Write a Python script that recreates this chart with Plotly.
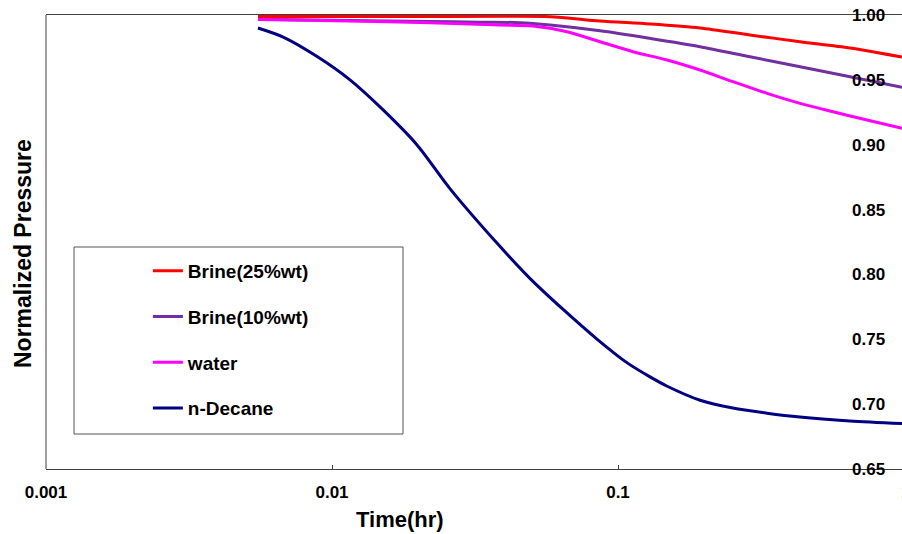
import plotly.graph_objects as go

# ---- data ----
t_brine25 = [0.00551, 0.0173, 0.0387, 0.0579, 0.0865, 0.1294, 0.1935, 0.2893, 0.4330, 0.6474, 0.984]
p_brine25 = [0.9988, 0.9988, 0.9990, 0.9987, 0.9954, 0.9931, 0.9900, 0.9846, 0.9794, 0.9746, 0.9676]

t_brine10 = [0.00551, 0.01156, 0.022, 0.0329, 0.0454, 0.0579, 0.0865, 0.1294, 0.1935, 0.2893, 0.4330, 0.6474, 0.984]
p_brine10 = [0.9967, 0.9958, 0.9950, 0.9945, 0.9941, 0.9923, 0.9879, 0.9820, 0.9756, 0.9678, 0.9601, 0.9524, 0.9443]

t_water = [0.00551, 0.01156, 0.022, 0.0387, 0.0504, 0.0663, 0.0865, 0.1128, 0.1484, 0.1935, 0.2524,
           0.3319, 0.4330, 0.5646, 0.7425, 0.984]
p_water = [0.9965, 0.9954, 0.9940, 0.9923, 0.9915, 0.9871, 0.9794, 0.9717, 0.9653, 0.9576, 0.9486,
           0.9396, 0.9319, 0.9254, 0.9190, 0.9126]

t_decane = [0.00551, 0.00675, 0.00887, 0.01156, 0.01506, 0.0198, 0.02588, 0.0378, 0.0492,
            0.0643, 0.0846, 0.1074, 0.1294, 0.148, 0.1937, 0.252, 0.332, 0.4325, 0.647, 0.984]
p_decane = [0.990, 0.983, 0.968, 0.950, 0.927, 0.900, 0.866, 0.824, 0.797,
            0.773, 0.750, 0.732, 0.721, 0.714, 0.703, 0.697, 0.693, 0.690, 0.687, 0.685]

series_names = ["Brine(25%wt)", "Brine(10%wt)", "water", "n-Decane"]
series_colors = ["#FF0000", "#7030A0", "#FF00FF", "#000080"]

x_tickvals = [0.001, 0.01, 0.1, 1]
x_ticktext = ["0.001", "0.01", "0.1", "1"]
y_tickvals = [0.65, 0.70, 0.75, 0.80, 0.85, 0.90, 0.95, 1.00]

FONT = "Arial, Liberation Sans, sans-serif"

fig = go.Figure()
data = [(t_brine25, p_brine25), (t_brine10, p_brine10), (t_water, p_water), (t_decane, p_decane)]
for i, ((tx, py), name, col) in enumerate(zip(data, series_names, series_colors)):
    fig.add_trace(go.Scatter(
        x=tx, y=py, mode="lines", name=name, legendgroup=f"g{i}",
        line=dict(color=col, width=3, shape="spline", smoothing=0.8),
    ))

fig.update_layout(
    width=902, height=534,
    margin=dict(l=46, r=0, t=15, b=65),
    paper_bgcolor="white", plot_bgcolor="white",
    font=dict(family=FONT, color="black"),
    showlegend=True,
    legend=dict(
        x=0.119, y=0.478, xanchor="left", yanchor="top",
        bgcolor="rgba(0,0,0,0)", borderwidth=0,
        font=dict(size=19, family=FONT, color="black", weight="bold"),
        traceorder="grouped", tracegroupgap=18, itemwidth=30,
    ),
    xaxis=dict(
        type="log", range=[-3, -0.007], domain=[0, 1],
        tickvals=x_tickvals, ticktext=x_ticktext,
        showline=True, linecolor="#404040", linewidth=1, mirror=True,
        ticks="inside", ticklen=4, tickcolor="#404040",
        showgrid=False, zeroline=False,
        tickfont=dict(size=17, family=FONT, weight="bold", color="black"),
        ticklabelstandoff=8,
    ),
    yaxis=dict(
        range=[0.65, 1.00], side="right", anchor="free", position=(851 - 46) / 856,
        tickvals=y_tickvals, tickformat=".2f",
        ticks="",
        showline=False, showgrid=False, zeroline=False,
        tickfont=dict(size=17, family=FONT, weight="bold", color="black"),
    ),
    shapes=[
        dict(type="line", xref="paper", yref="paper", x0=0, x1=0, y0=0, y1=1,
             line=dict(color="#404040", width=1)),
        dict(type="rect", xref="paper", yref="paper",
             x0=(74 - 46) / 856, x1=(403 - 46) / 856,
             y0=(469 - 434) / 454, y1=(469 - 247) / 454,
             line=dict(color="#555555", width=1), fillcolor="rgba(0,0,0,0)", layer="below"),
    ],
    annotations=[
        dict(text="Time(hr)", xref="paper", yref="paper",
             x=(400 - 46) / 856, y=-(519 - 469) / 454, xanchor="center", yanchor="middle",
             showarrow=False, font=dict(size=22, family=FONT, weight="bold")),
        dict(text="Normalized Pressure", xref="paper", yref="paper",
             x=-(46 - 23) / 856, y=(469 - 254) / 454, xanchor="center", yanchor="middle",
             textangle=-90, showarrow=False, font=dict(size=23, family=FONT, weight="bold")),
        dict(text="1", xref="paper", yref="paper", x=1, y=-(492 - 469) / 454,
             xanchor="left", yanchor="middle", xshift=-3, showarrow=False,
             font=dict(size=17, family=FONT, weight="bold")),
    ],
)

fig.write_html("out.html")
